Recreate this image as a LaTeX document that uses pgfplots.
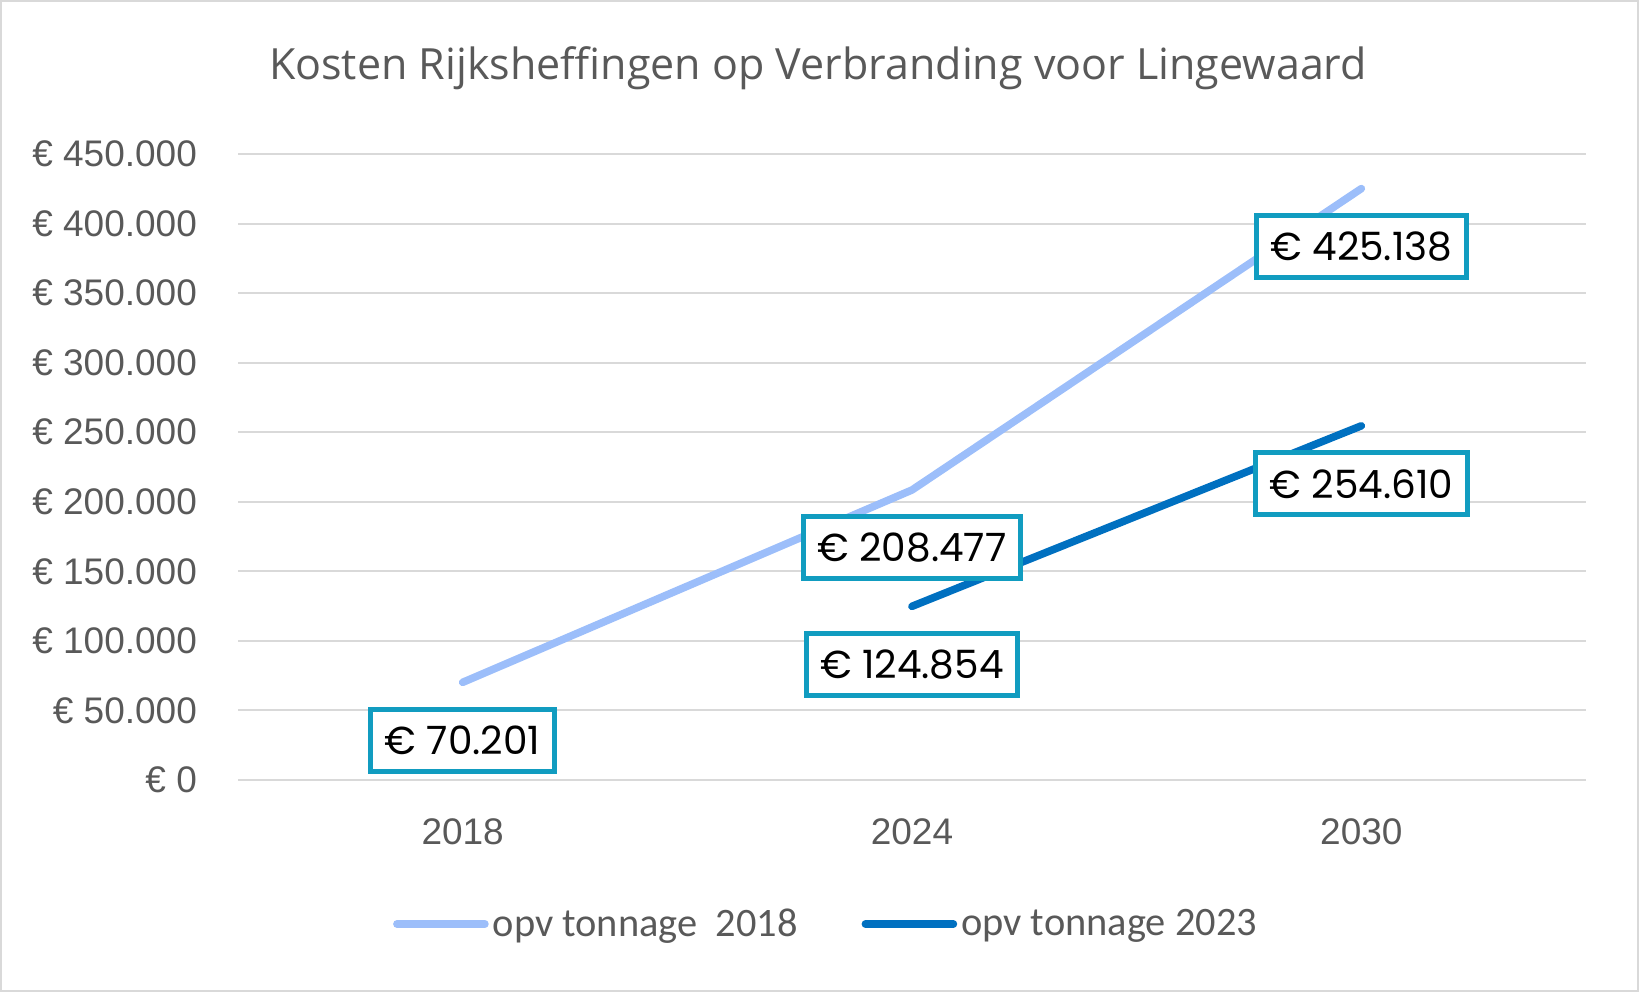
\documentclass[border=0pt]{standalone}
\usepackage{fontspec}
\setmainfont{Liberation Sans}
\newfontfamily\titlefont{Open Sans}
\newfontfamily\legfont{Carlito}
\newfontfamily\lblfont{Poppins}
\usepackage{pgfplots}
\pgfplotsset{compat=1.18}
\definecolor{txtgray}{HTML}{595959}
\definecolor{gridgray}{HTML}{D9D9D9}
\definecolor{lightser}{HTML}{9CBEFA}
\definecolor{darkser}{HTML}{0070C0}
\definecolor{boxteal}{HTML}{119CC0}
\begin{document}
\begin{tikzpicture}
\draw[gridgray, line width=1pt] (0.5pt,0.5pt) rectangle (819pt,495.5pt);
\node[font=\titlefont\fontsize{21.5}{25}\selectfont, text=txtgray] at (409pt,462pt) {Kosten Rijksheffingen op Verbranding voor Lingewaard};
\begin{axis}[
  at={(119pt,106pt)}, anchor=south west,
  scale only axis, width=674pt, height=313pt,
  xmin=-0.5, xmax=2.5, ymin=0, ymax=450000,
  xtick={0,1,2}, xticklabels={2018,2024,2030},
  ytick={0,50000,...,450000},
  scaled y ticks=false,
  /pgf/number format/assume math mode=true,
  yticklabel={€ \pgfmathprintnumber[fixed,precision=0,1000 sep={.}]{\tick}},
  ticklabel style={font=\fontsize{18.5}{21}\selectfont, text=txtgray},
  yticklabel style={anchor=east, xshift=-17pt},
  xticklabel style={anchor=center, yshift=-26pt, font=\fontsize{18.5}{21}\selectfont},
  major tick length=0pt,
  axis line style={draw=none},
  ymajorgrids, grid style={gridgray, line width=1pt},
  axis x line*=bottom,
  clip=false,
  legend columns=2,
  legend style={at={(0.437,-0.23)}, anchor=center, draw=none, fill=none,
    font=\legfont\fontsize{20.2}{23}\selectfont, text=txtgray,
    /tikz/every even column/.append style={column sep=30pt},
    inner sep=0pt},
  legend image code/.code={\draw[#1, line cap=round] (0pt,0pt) -- (44pt,0pt);},
  nodes near coords={\lblfont € \pgfmathprintnumber[fixed,precision=0,1000 sep={.}]{\pgfplotspointmeta}},
  every node near coord/.append style={font=\fontsize{19.5}{22}\selectfont, text=black,
    anchor=center, yshift=-29pt, draw=boxteal, line width=2.5pt, fill=white,
    minimum height=31pt, inner xsep=7pt},
]
\draw[gridgray, line width=1pt] (axis cs:-0.5,0) -- (axis cs:2.5,0);
\addplot[lightser, line width=3.8pt, line cap=round] coordinates {(0,70201) (1,208477) (2,425138)};
\addlegendentry{opv tonnage\ \ 2018}
\addplot[darkser, line width=3.8pt, line cap=round] coordinates {(1,124854) (2,254610)};
\addlegendentry{opv tonnage 2023}
\end{axis}
\end{tikzpicture}
\end{document}
